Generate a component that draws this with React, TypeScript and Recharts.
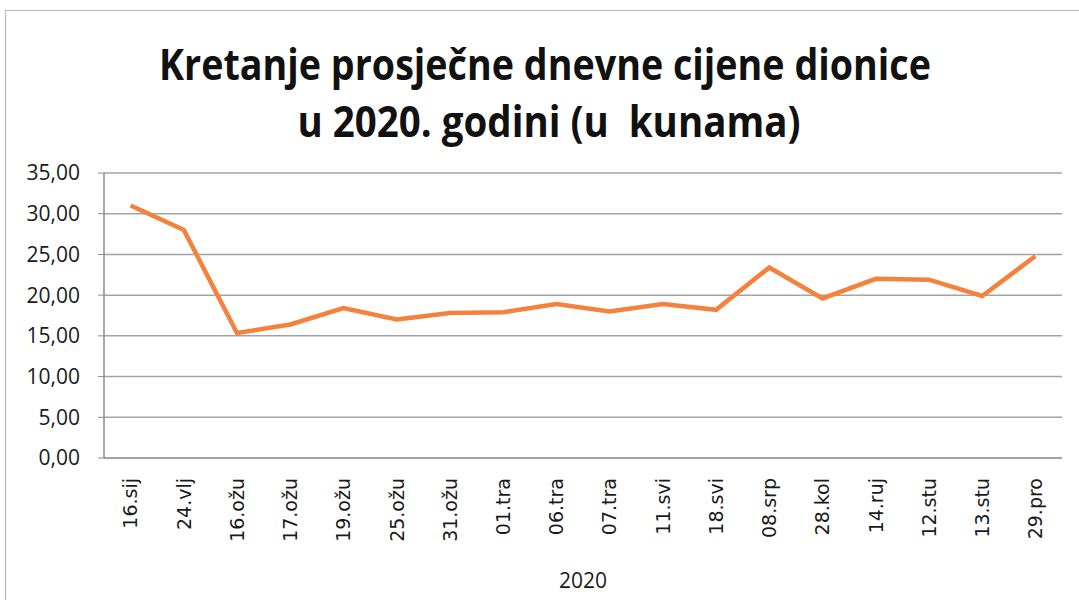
import React from 'react';
import { LineChart, Line, XAxis, YAxis, CartesianGrid } from 'recharts';

// prosječna dnevna cijena dionice, 2020 (kn)
const dates = [
  '16.sij', '24.vlj', '16.ožu', '17.ožu', '19.ožu', '25.ožu', '31.ožu', '01.tra', '06.tra',
  '07.tra', '11.svi', '18.svi', '08.srp', '28.kol', '14.ruj', '12.stu', '13.stu', '29.pro',
];
const prices = [
  31.0, 28.0, 15.35, 16.4, 18.4, 17.0, 17.8, 17.9, 18.9,
  18.0, 18.9, 18.2, 23.4, 19.6, 22.0, 21.9, 19.9, 24.8,
];
const yTicks = [0, 5, 10, 15, 20, 25, 30, 35];

const data = dates.map((d, i) => ({ date: d, price: prices[i] }));

const fmt = (v: number) => v.toFixed(2).replace('.', ',');

const XTick = (props: any) => {
  const { x, y, payload } = props;
  const ty = y + 12;
  return (
    <text
      x={x}
      y={ty}
      transform={`rotate(-90, ${x}, ${ty})`}
      textAnchor="end"
      dy="0.36em"
      fontFamily="DejaVu Sans"
      fontSize={19}
      fill="#1a1a1a"
    >
      {payload.value}
    </text>
  );
};

const App: React.FC = () => {
  return (
    <div style={{ position: 'absolute', left: 0, top: 0, width: 1079, height: 600, background: '#fff' }}>
      <div
        style={{
          position: 'absolute', left: 5, top: 10, width: 1100, height: 620,
          border: '1.5px solid #b5b5b5', boxSizing: 'border-box',
        }}
      />
      <svg width={1079} height={170} style={{ position: 'absolute', left: 0, top: 0 }}>
        <text
          x={545} y={80} textAnchor="middle" fontFamily="Open Sans" fontWeight={700}
          fontSize={43} fill="#111" textLength={772} lengthAdjust="spacingAndGlyphs"
        >
          Kretanje prosječne dnevne cijene dionice
        </text>
        <text
          x={549} y={137} textAnchor="middle" fontFamily="Open Sans" fontWeight={700}
          fontSize={43} fill="#111" textLength={503} lengthAdjust="spacingAndGlyphs"
          style={{ whiteSpace: 'pre' }}
        >
          {'u 2020. godini (u  kunama)'}
        </text>
      </svg>
      <LineChart
        width={1079}
        height={600}
        data={data}
        margin={{ top: 173, right: 17, left: 0, bottom: 0 }}
        style={{ position: 'absolute', left: 0, top: 0 }}
      >
        <CartesianGrid horizontal vertical={false} stroke="#a3a3a3" strokeWidth={1.5} />
        <XAxis
          dataKey="date"
          height={142}
          padding={{ left: 26.6, right: 26.6 }}
          interval={0}
          tick={<XTick />}
          tickLine={false}
          axisLine={{ stroke: '#9a9a9a', strokeWidth: 1.5 }}
          label={{
            value: '2020', position: 'insideBottom', offset: 12,
            style: { fontFamily: 'Open Sans', fontSize: 21, fill: '#1a1a1a' },
          }}
        />
        <YAxis
          width={104}
          domain={[0, 35]}
          ticks={yTicks}
          tickFormatter={fmt}
          tickSize={6}
          tickMargin={18}
          interval={0}
          axisLine={{ stroke: '#8c8c8c', strokeWidth: 1.5 }}
          tickLine={{ stroke: '#8c8c8c' }}
          tick={{ fontFamily: 'Open Sans', fontSize: 21, fill: '#1a1a1a' }}
        />
        <Line
          type="linear"
          dataKey="price"
          stroke="#f4823d"
          strokeWidth={4.5}
          dot={false}
          isAnimationActive={false}
        />
      </LineChart>
    </div>
  );
};

export default App;
